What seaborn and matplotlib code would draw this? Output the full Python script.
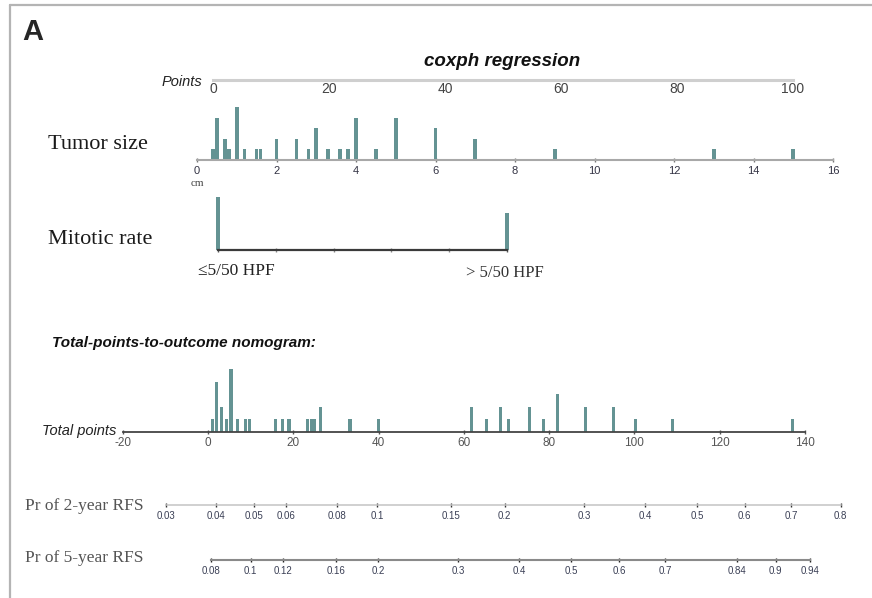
import numpy as np
import matplotlib
matplotlib.use("Agg")
import matplotlib.pyplot as plt
from matplotlib.lines import Line2D
import seaborn as sns

# ---- data -------------------------------------------------------------
points_ticks = [0, 20, 40, 60, 80, 100]

# tumor size (cm) and number of patients at each size
tumor_cm = [0.4, 0.5, 0.7, 0.8, 1.0, 1.2, 1.5, 1.6, 2.0, 2.5, 2.8, 3.0,
            3.3, 3.6, 3.8, 4.0, 4.5, 5.0, 6.0, 7.0, 9.0, 13.0, 15.0]
tumor_n = [1, 4, 2, 1, 5, 1, 1, 1, 2, 2, 1, 3,
           1, 1, 1, 4, 1, 4, 3, 2, 1, 1, 1]
tumor_ticks = [0, 2, 4, 6, 8, 10, 12, 14, 16]

# mitotic rate categories and patient counts
mitotic_labels = ["\u22645/50 HPF", "> 5/50 HPF"]
mitotic_n = [26, 18]

# total points and patient counts
total_pts = [1.0, 1.9, 3.2, 4.3, 5.4, 6.9, 8.9, 9.8, 15.9, 17.5, 19.0,
             23.4, 24.2, 25.0, 26.3, 33.3, 40.0, 61.8, 65.4, 68.5, 70.5,
             75.3, 78.7, 81.9, 88.6, 95.2, 100.3, 109.0, 137.0]
total_n = [1, 4, 2, 1, 5, 1, 1, 1, 1, 1, 1,
           1, 1, 1, 2, 1, 1, 2, 1, 2, 1,
           2, 1, 3, 2, 2, 1, 1, 1]
total_ticks = [-20, 0, 20, 40, 60, 80, 100, 120, 140]

rfs2_ticks = [0.03, 0.04, 0.05, 0.06, 0.08, 0.1, 0.15, 0.2, 0.3, 0.4,
              0.5, 0.6, 0.7, 0.8]
rfs5_ticks = [0.08, 0.1, 0.12, 0.16, 0.2, 0.3, 0.4, 0.5, 0.6, 0.7,
              0.84, 0.9, 0.94]

# ---- style ------------------------------------------------------------
sns.set_style("white")
plt.rcParams["font.family"] = ["Liberation Sans", "DejaVu Sans"]

BAR = "#5c9b9b"
SERIF = ["Liberation Serif", "DejaVu Serif"]
SANS = ["Liberation Sans", "DejaVu Sans"]

W, H = 872, 598
fig = plt.figure(figsize=(W / 100, H / 100), dpi=100)


def row_axes(x_lo, x_hi, y_base, h):
    """Axes whose bottom edge is the scale line of one nomogram row."""
    return fig.add_axes([x_lo / W, 1 - y_base / H, (x_hi - x_lo) / W, h / H])


def style_scale(ax, line_color, lw, tick_color, label_color, size, pad=2.0,
                tick_len=3.5):
    for side in ("top", "right", "left"):
        ax.spines[side].set_visible(False)
    ax.spines["bottom"].set_color(line_color)
    ax.spines["bottom"].set_linewidth(lw)
    ax.set_yticks([])
    ax.patch.set_alpha(0)
    ax.tick_params(axis="x", bottom=True, direction="inout", length=tick_len,
                   width=1, color=tick_color, labelcolor=label_color,
                   labelsize=size, pad=pad)
    ax.set_xlabel("")
    ax.set_ylabel("")


def ftext(x, y, s, **kw):
    fig.text(x / W, 1 - y / H, s, **kw)


def cloglog(p):
    return np.log(-np.log(1 - np.asarray(p, dtype=float)))


# frame lines and panel letter
fig.add_artist(Line2D([10 / W, 1], [1 - 5 / H, 1 - 5 / H],
                      transform=fig.transFigure, color="#b4b4b4", lw=1.6))
fig.add_artist(Line2D([10 / W, 10 / W], [0, 1 - 5 / H],
                      transform=fig.transFigure, color="#b4b4b4", lw=1.6))
ftext(22, 32, "A", fontsize=21, fontweight="bold", family=SANS,
      ha="left", va="center")

# ---- Points scale -------------------------------------------------------
ftext(502, 62, "coxph regression", fontsize=13.5, fontweight="bold",
      fontstyle="italic", family=SANS, ha="center", va="center", color="#111")
ax_pts = row_axes(213, 793, 80, 8)
ax_pts.set_xlim(0, 100)
ax_pts.set_xticks(points_ticks)
style_scale(ax_pts, "#cfcfcf", 2.2, "#aaaaaa", "#444444", 10, pad=0.5,
            tick_len=2)
ftext(182, 82, "Points", fontsize=10.5, fontstyle="italic", family=SANS,
      ha="center", va="center", color="#222")

# ---- Tumor size ---------------------------------------------------------
ax_t = row_axes(197, 833, 160, 53)
sns.barplot(x=tumor_cm, y=tumor_n, native_scale=True, orient="x",
            width=0.9, color=BAR, linewidth=0, errorbar=None, ax=ax_t)
ax_t.set_xlim(0, 16)
ax_t.set_ylim(0, 5)
ax_t.set_xticks(tumor_ticks)
ax_t.set_xticklabels([str(t) for t in tumor_ticks])
style_scale(ax_t, "#a8a8a8", 1.5, "#777777", "#333344", 8, pad=2.5)
ftext(48, 145, "Tumor size", fontsize=16, family=SERIF, ha="left",
      va="center", color="#1a1a1a")
ftext(197, 184, "cm", fontsize=8, family=SERIF, ha="center", va="center",
      color="#444")

# ---- Mitotic rate -------------------------------------------------------
ax_m = row_axes(218, 507, 250, 53)
sns.barplot(x=[0, 1], y=mitotic_n, native_scale=True, orient="x",
            width=0.012, color=BAR, linewidth=0, errorbar=None, ax=ax_m)
ax_m.set_xlim(0, 1)
ax_m.set_ylim(0, 26)
ax_m.set_xticks([0, 1])
ax_m.set_xticklabels([])
ax_m.set_xticks([0.2, 0.4, 0.6, 0.8], minor=True)
style_scale(ax_m, "#3a3a3a", 1.6, "#555555", "#333333", 8)
ax_m.tick_params(axis="x", which="minor", bottom=True, direction="inout",
                 length=2.5, width=1, color="#888888")
for p in ax_m.patches:
    p.set_clip_on(False)
ax_m.annotate(mitotic_labels[0], xy=(0, 0), xycoords=("data", "axes fraction"),
              xytext=(-20, -21), textcoords="offset pixels", ha="left",
              va="center", fontsize=12.5, family=SERIF, color="#222")
ax_m.annotate(mitotic_labels[1], xy=(1, 0), xycoords=("data", "axes fraction"),
              xytext=(-2, -23), textcoords="offset pixels", ha="center",
              va="center", fontsize=12, family=SERIF, color="#333")
ftext(48, 240, "Mitotic rate", fontsize=16, family=SERIF, ha="left",
      va="center", color="#1a1a1a")

# ---- Total points -------------------------------------------------------
ftext(52, 343, "Total-points-to-outcome nomogram:", fontsize=11,
      fontweight="bold", fontstyle="italic", family=SANS, ha="left",
      va="center", color="#111")
ax_tp = row_axes(122.7, 805, 432, 63)
sns.barplot(x=total_pts, y=total_n, native_scale=True, orient="x",
            width=0.9, color=BAR, linewidth=0, errorbar=None, ax=ax_tp)
ax_tp.set_xlim(-20, 140)
ax_tp.set_ylim(0, 5)
ax_tp.set_xticks(total_ticks)
ax_tp.set_xticklabels([str(t) for t in total_ticks])
style_scale(ax_tp, "#444444", 1.3, "#555555", "#555555", 8.5, pad=1.5)
ftext(79, 431, "Total points", fontsize=10.5, fontstyle="italic", family=SANS,
      ha="center", va="center", color="#222")

# ---- Probability scales -------------------------------------------------
ax_r2 = row_axes(165.7, 840.7, 505, 8)
ax_r2.set_xlim(cloglog(rfs2_ticks[0]), cloglog(rfs2_ticks[-1]))
ax_r2.set_xticks(cloglog(rfs2_ticks))
ax_r2.set_xticklabels([f"{p:g}" for p in rfs2_ticks])
style_scale(ax_r2, "#c4c4c4", 1.1, "#333333", "#3a3f55", 7, pad=2.5)
ftext(25, 506, "Pr of 2-year RFS", fontsize=12.5, family=SERIF, ha="left",
      va="center", color="#555")

ax_r5 = row_axes(210.7, 810, 560, 8)
ax_r5.set_xlim(cloglog(rfs5_ticks[0]), cloglog(rfs5_ticks[-1]))
ax_r5.set_xticks(cloglog(rfs5_ticks))
ax_r5.set_xticklabels([f"{p:g}" for p in rfs5_ticks])
style_scale(ax_r5, "#8a8a8a", 1.5, "#222222", "#3a3f55", 7, pad=2.5)
ftext(25, 558, "Pr of 5-year RFS", fontsize=12.5, family=SERIF, ha="left",
      va="center", color="#555")

fig.savefig("out.png", dpi=100)
